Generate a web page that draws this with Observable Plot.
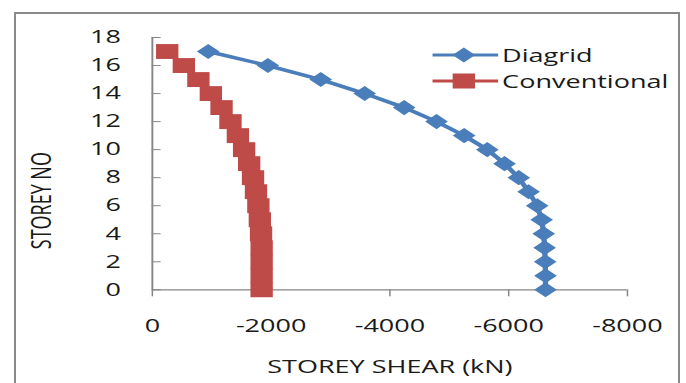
<!DOCTYPE html>
<html><head><meta charset="utf-8">
<script src="https://cdn.jsdelivr.net/npm/d3@7"></script>
<script src="https://cdn.jsdelivr.net/npm/@observablehq/plot@0.6"></script>
<style>
html,body{margin:0;padding:0;background:#fff;}
#outer{position:relative;width:686px;height:383px;overflow:hidden;background:#fff;}
#frame{position:absolute;left:13.5px;top:12px;width:662.5px;height:420px;border:2px solid #8a8a8a;box-sizing:content-box;}
#chart{position:absolute;left:0;top:0;width:457px;height:383px;transform:scaleX(1.5011);transform-origin:0 0;font-family:"Open Sans",sans-serif;}
.leg{position:absolute;left:287.5px;height:24px;display:flex;align-items:center;font-size:18px;color:#1a1a1a;white-space:nowrap;}
.leg svg{display:block;margin-right:3px;}
</style></head>
<body>
<div id="outer"><div id="frame"></div><div id="chart"></div></div>
<script>
const storeys = [0,1,2,3,4,5,6,7,8,9,10,11,12,13,14,15,16,17];
const diagrid = [-6620,-6620,-6615,-6605,-6590,-6555,-6480,-6335,-6170,-5930,-5640,-5250,-4785,-4240,-3575,-2835,-1945,-940];
const conventional = [-1840,-1840,-1840,-1840,-1830,-1810,-1785,-1745,-1695,-1630,-1545,-1440,-1315,-1165,-985,-775,-530,-250];
const seriesNames = ["Diagrid","Conventional"];
const seriesColors = ["#4a7ebb","#be4b48"];
const xTicks = [0,-2000,-4000,-6000,-8000];
const yTicks = [0,2,4,6,8,10,12,14,16,18];
const xLabel = "STOREY SHEAR (kN)";
const yLabel = "STOREY NO";

const rows = [];
storeys.forEach((s,i)=>{
  rows.push({series:seriesNames[0], storey:s, shear:diagrid[i]});
});
storeys.forEach((s,i)=>{
  rows.push({series:seriesNames[1], storey:s, shear:conventional[i]});
});
const dRows = rows.filter(d=>d.series===seriesNames[0]);
const cRows = rows.filter(d=>d.series===seriesNames[1]);

const W = 457, H = 383;
const axisGray = "#868686";
const chart = Plot.plot({
  width: W, height: H,
  marginLeft: 101, marginRight: 39.5, marginTop: 37, marginBottom: 93.7,
  style: {fontFamily: "'Open Sans', sans-serif", fontSize: "18px", color: "#1a1a1a", background: "transparent", overflow: "visible"},
  x: {domain: [0, -8000]},
  y: {domain: [0, 18]},
  marks: [
    Plot.ruleY([0], {stroke: axisGray, strokeWidth: 1.3}),
    Plot.ruleX([0], {stroke: axisGray, strokeWidth: 1.3}),
    Plot.axisX(xTicks, {tickSize: 7, tickPadding: 22, tickFormat: d => String(d), stroke: axisGray, fill: "#1a1a1a", label: null}),
    Plot.axisY(yTicks, {tickSize: 6, dx: 6, fill: "none", stroke: axisGray, label: null}),
    Plot.axisY(yTicks, {tickSize: 0, tickPadding: 21, fill: "#1a1a1a", label: null, tickFormat: d => String(d)}),
    Plot.line(cRows, {x: "shear", y: "storey", stroke: seriesColors[1], strokeWidth: 3}),
    Plot.dot(cRows, {x: "shear", y: "storey", symbol: "square", r: 8.4, fill: seriesColors[1], stroke: "none"}),
    Plot.line(dRows, {x: "shear", y: "storey", stroke: seriesColors[0], strokeWidth: 3.5}),
    Plot.dot(dRows, {x: "shear", y: "storey", symbol: "diamond2", r: 6.8, fill: seriesColors[0], stroke: "none"}),
    Plot.text([yLabel], {text: d => d, frameAnchor: "left", dx: -73, dy: 37, rotate: -90, textAnchor: "middle", lineAnchor: "middle", fill: "#1a1a1a"}),
    Plot.text([xLabel], {text: d => d, frameAnchor: "bottom", dy: 77, lineAnchor: "middle", fill: "#1a1a1a"})
  ]
});
const host = document.getElementById("chart");
host.appendChild(chart);

// legend (HTML, placed over the chart)
const symPaths = [d3.symbol(d3.symbolDiamond2, Math.PI*6.8*6.8)(), d3.symbol(d3.symbolSquare, Math.PI*8.4*8.4)()];
const legendTops = [43, 69];
seriesNames.forEach((name, i) => {
  const div = document.createElement("div");
  div.className = "leg";
  div.style.top = legendTops[i] + "px";
  div.innerHTML = `<svg width="44" height="24" viewBox="0 0 44 24"><line x1="0" x2="44" y1="12" y2="12" stroke="${seriesColors[i]}" stroke-width="3"/><path transform="translate(21,12)" d="${symPaths[i]}" fill="${seriesColors[i]}"/></svg><span>${name}</span>`;
  host.appendChild(div);
});
</script>
</body></html>
